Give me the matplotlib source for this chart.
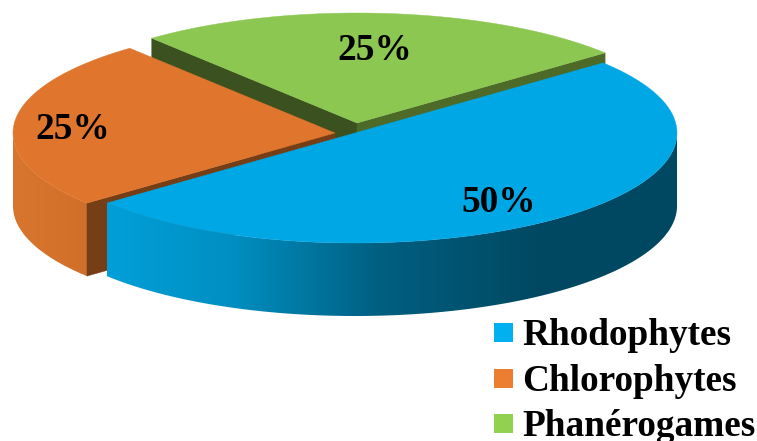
"""Exploded 3D-look pie of algae groups, drawn with an elliptical projection."""

import matplotlib

matplotlib.use("Agg")
import matplotlib.pyplot as plt
import numpy as np
from matplotlib.colors import to_rgb
from matplotlib.patches import Polygon, Rectangle

groups = ["Rhodophytes", "Chlorophytes", "Phanérogames"]
shares = [50, 25, 25]

W, H = 757, 441
RX, RY = 322, 110
DEPTH = 73
START = 39.6  # parametric angle of the first slice edge, going clockwise
CENTERS = [(355, 133), (335, 133), (357, 123)]
LABEL_POS = [(499, 212), (73, 139), (375, 60)]
LEGEND_Y = [345, 391, 436]
TOP = ["#00a7e5", "#e0762d", "#8bc751"]
SWATCH = ["#00b0f0", "#ed7d31", "#92d050"]
SERIF = "Liberation Serif"
FONT_PT = 26.8

fig = plt.figure(figsize=(W / 100, H / 100), dpi=100)
ax = fig.add_axes([0, 0, 1, 1])
ax.set_xlim(0, W)
ax.set_ylim(H, 0)
ax.axis("off")


def rim(center, a, b, dy=0):
    t = np.radians(np.linspace(a, b, 200))
    return np.column_stack([center[0] + RX * np.cos(t), center[1] - RY * np.sin(t) + dy])


def point(center, a):
    return rim(center, a, a)[0]


def face(pts, color, z):
    ax.add_patch(Polygon(pts, closed=True, fc=color, ec=color, lw=0.3, zorder=z))


def cut(center, a, color, z):
    # flat face from the apex out to the rim at angle a
    p, c = point(center, a), np.array(center, float)
    d = np.array([0, DEPTH])
    face([c, p, p + d, c + d], color, z)


def side(center, a, b, xs, cols, z):
    # curved outer wall, coloured by a horizontal gradient clipped to the wall
    upper = rim(center, a, b)
    lower = rim(center, a, b, DEPTH)
    patch = Polygon(np.vstack([upper, lower[::-1]]), closed=True, fc="none", ec="none", zorder=z)
    ax.add_patch(patch)
    x0, x1 = upper[:, 0].min(), upper[:, 0].max()
    grid = np.linspace(x0, x1, 400)
    rgb = np.array([to_rgb(c) for c in cols])
    img = np.stack([np.interp(grid, xs, rgb[:, i]) for i in range(3)], axis=-1)[None, :, :]
    im = ax.imshow(img, extent=[x0, x1, H, 0], aspect="auto", zorder=z)
    im.set_clip_path(patch)


# slice angles come from the shares, clockwise from START
edges = START - np.cumsum([0] + shares) * 3.6
blue = (edges[0], edges[1])
orange = (edges[1], edges[2])
green = (edges[2], edges[3])

# back to front: green, orange, blue
cut(CENTERS[2], green[0], "#3b5120", 1)
cut(CENTERS[2], green[1], "#4d6a29", 1)
face(np.vstack([[CENTERS[2]], rim(CENTERS[2], *green)]), TOP[2], 2)

side(CENTERS[1], -180, blue[1], [13, 88], ["#d8752e", "#d16f2a"], 3)
cut(CENTERS[1], blue[1], "#763e17", 3.5)
face(np.vstack([[CENTERS[1]], rim(CENTERS[1], *orange)]), TOP[1], 4)

side(CENTERS[0], blue[1], 0, [108, 230, 380, 540],
     ["#009fd9", "#008fc2", "#005f80", "#004862"], 5)
face(np.vstack([[CENTERS[0]], rim(CENTERS[0], *blue)]), TOP[0], 6)

ax.set_xlim(0, W)
ax.set_ylim(H, 0)

for share, (x, y) in zip(shares, LABEL_POS):
    ax.text(x, y, f"{share}%", family=SERIF, weight="bold", fontsize=FONT_PT,
            ha="center", va="baseline", color="black", zorder=10)

for name, color, y in zip(groups, SWATCH, LEGEND_Y):
    ax.add_patch(Rectangle((494, y - 22), 19, 19, fc=color, ec="none", zorder=10))
    ax.text(522, y, name, family=SERIF, weight="bold", fontsize=FONT_PT,
            ha="left", va="baseline", color="black", zorder=10)

fig.savefig("out.png", dpi=100)
plt.close(fig)
